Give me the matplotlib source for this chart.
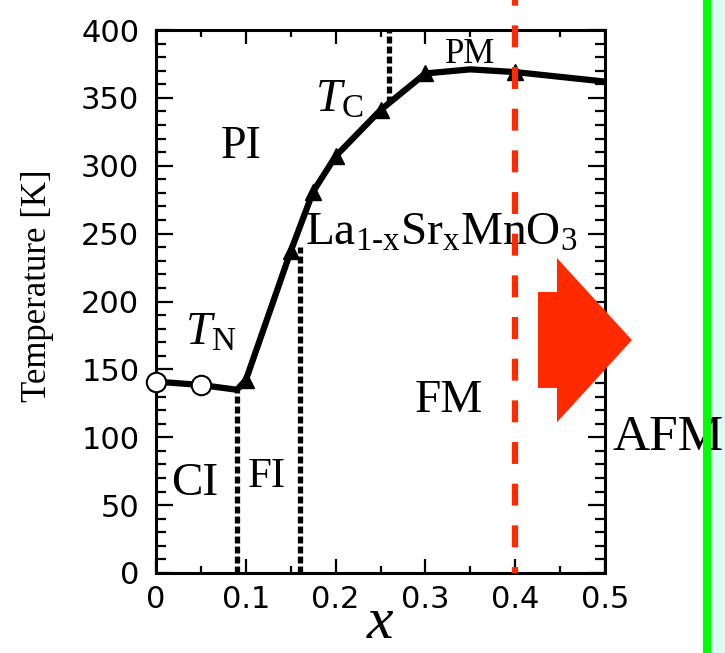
import numpy as np
import matplotlib
matplotlib.use("Agg")
import matplotlib.pyplot as plt
from matplotlib.patches import Polygon, Rectangle
from matplotlib.lines import Line2D

plt.rcParams['mathtext.fontset'] = 'custom'
plt.rcParams['mathtext.rm'] = 'Liberation Serif'
plt.rcParams['mathtext.it'] = 'Liberation Serif:italic'
plt.rcParams['lines.scale_dashes'] = False

# phase boundary of La1-xSrxMnO3
x_line = [0, 0.05, 0.09, 0.1, 0.15, 0.175, 0.2, 0.25, 0.3, 0.35, 0.4, 0.5]
t_line = [141, 138.5, 135, 142, 237, 281, 307, 341, 368, 371, 369, 362]

# T_N points (open circles)
x_tn = [0, 0.05]
t_tn = [141, 138.5]

# T_C points (filled triangles)
x_tc = [0.1, 0.15, 0.175, 0.2, 0.25, 0.3, 0.4]
t_tc = [142, 237, 281, 307, 341, 368, 369]

# dashed phase borders: x, T from, T to
borders_x = [0.09, 0.16, 0.26]
borders_lo = [0, 0, 346]
borders_hi = [135, 240, 400]

x_ticks = [0, 0.1, 0.2, 0.3, 0.4, 0.5]
x_ticklabels = ['0', '0.1', '0.2', '0.3', '0.4', '0.5']
y_ticks = [0, 50, 100, 150, 200, 250, 300, 350, 400]

red = '#ff2a00'
serif = 'Liberation Serif'

fig = plt.figure(figsize=(7.25, 6.53), dpi=100)
ax = fig.add_axes([156 / 725, 80 / 653, 449 / 725, 543 / 653])

ax.plot(x_line, t_line, color='black', lw=4.5, solid_joinstyle='round', zorder=3)
ax.plot(x_tc, t_tc, linestyle='none', marker='^', ms=12, color='black', zorder=4)
ax.plot(x_tn, t_tn, linestyle='none', marker='o', ms=14, mfc='white', mec='black',
        mew=1.5, zorder=5, clip_on=False)

for bx, lo, hi in zip(borders_x, borders_lo, borders_hi):
    ax.plot([bx, bx], [lo, hi], color='black', lw=3.8, linestyle=(0, (5, 2.2)), zorder=2)

# red dashed guide at x = 0.4 running to the top of the figure
ax.plot([0.4, 0.4], [0, 422], color=red, lw=4.5, linestyle=(11.5, (15.8, 14.2)),
        clip_on=False, zorder=6)

ax.set_xlim(0, 0.5)
ax.set_ylim(0, 400)
ax.set_xticks(x_ticks)
ax.set_xticklabels(x_ticklabels)
ax.set_xticks([0.05, 0.15, 0.25, 0.35, 0.45], minor=True)
ax.set_yticks(y_ticks)
ax.set_yticks(np.arange(0, 401, 10), minor=True)

ax.tick_params(which='both', direction='in', top=True, right=True, width=1.6,
               labelsize=22, colors='black')
ax.tick_params(axis='x', which='major', length=10, pad=9)
ax.tick_params(axis='x', which='minor', length=5)
ax.tick_params(axis='y', which='major', length=12, pad=12)
ax.tick_params(axis='y', which='minor', length=7)
for s in ax.spines.values():
    s.set_linewidth(2.2)

ax.set_xlabel('$x$', fontsize=43)
ax.xaxis.set_label_coords(0.5, -0.12)
ax.xaxis.label.set_va('baseline')
ax.set_ylabel('Temperature [K]', family=serif, fontsize=25)
ax.yaxis.set_label_coords(-0.263, 0.53)
ax.yaxis.label.set_va('center')

# region labels
ax.text(0.0947, 305.7, 'PI', family=serif, fontsize=33, ha='center', va='baseline')
ax.text(0.0434, 57.5, 'CI', family=serif, fontsize=34, ha='center', va='baseline')
ax.text(0.1236, 63.4, 'FI', family=serif, fontsize=31, ha='center', va='baseline')
ax.text(0.3263, 118.6, 'FM', family=serif, fontsize=34, ha='center', va='baseline')
ax.text(0.3497, 375.7, 'PM', family=serif, fontsize=25, ha='center', va='baseline')
ax.text(0.177, 339.6, r'$T_{\mathrm{C}}$', fontsize=34, ha='left', va='baseline')
ax.text(0.0323, 168, r'$T_{\mathrm{N}}$', fontsize=34, ha='left', va='baseline')
ax.text(0.166, 241.6, r'$\mathrm{La_{1\text{-}x}Sr_{x}MnO_{3}}$', fontsize=34,
        ha='left', va='baseline', zorder=1)
ax.text(0.5078, 90.6, 'AFM', family=serif, fontsize=37, ha='left', va='baseline',
        clip_on=False)

# block arrow pointing right
arrow = Polygon([(0.4254, 207), (0.4465, 207), (0.4465, 232), (0.530, 171.6),
                 (0.4465, 111), (0.4465, 136.3), (0.4254, 136.3)],
                closed=True, facecolor=red, edgecolor='none', clip_on=False, zorder=7)
ax.add_patch(arrow)

# right side strip
fig.add_artist(Rectangle((711 / 725, 0), 14 / 725, 1, transform=fig.transFigure,
                         facecolor='#dcfdf6', edgecolor='none', zorder=-1))
fig.add_artist(Line2D([707 / 725, 707 / 725], [0, 1], transform=fig.transFigure,
                      color='#00ff00', lw=5.8, zorder=10))

fig.savefig('out.png', dpi=100)
